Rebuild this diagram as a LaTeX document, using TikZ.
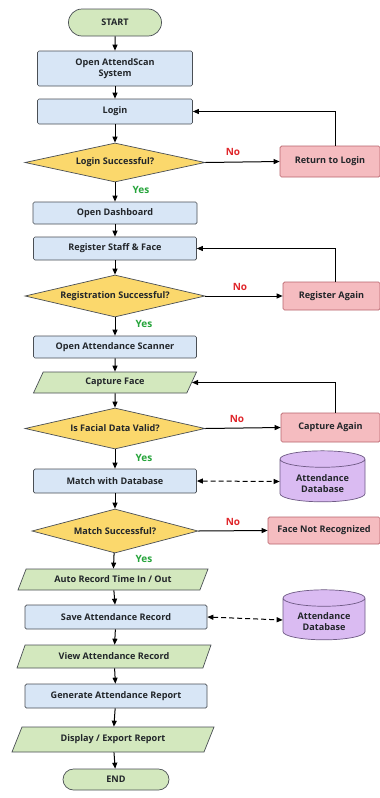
\documentclass[tikz,border=0pt]{standalone}
\usepackage{fontspec}
\setmainfont{Open Sans}
\usetikzlibrary{shapes.geometric,shapes.misc,arrows.meta}
\definecolor{termfill}{HTML}{D3E8BE}
\definecolor{procfill}{HTML}{D8E6F6}
\definecolor{decfill}{HTML}{FBD86C}
\definecolor{errfill}{HTML}{F5BCC0}
\definecolor{errline}{HTML}{B8646C}
\definecolor{dbfill}{HTML}{DABBF2}
\definecolor{dbline}{HTML}{6E5A84}
\definecolor{linec}{HTML}{4A4F55}
\definecolor{txt}{HTML}{22262A}
\definecolor{nored}{HTML}{E0262B}
\definecolor{yesgreen}{HTML}{25A43A}
\begin{document}
\begin{tikzpicture}[x=1pt,y=-1pt,
  font=\bfseries\fontsize{9.1}{11}\selectfont,
  base/.style={draw=linec, line width=0.7pt, text=txt, inner sep=1pt, align=center},
  term/.style={base, rounded rectangle, fill=termfill},
  proc/.style={base, rectangle, fill=procfill, rounded corners=1.5pt},
  dec/.style={base, diamond, fill=decfill, inner sep=0pt},
  err/.style={base, rectangle, fill=errfill, draw=errline, rounded corners=1.5pt},
  io/.style={base, trapezium, trapezium left angle=48, trapezium right angle=132, trapezium stretches body, fill=termfill},
  db/.style={base, cylinder, shape border rotate=90, aspect=0.3, fill=dbfill, draw=dbline},
  arr/.style={-{Triangle[length=6pt,width=5pt]}, line width=1pt, draw=black},
  dbarr/.style={{Triangle[length=6pt,width=5pt]}-{Triangle[length=6pt,width=5pt]}, line width=1pt, dash pattern=on 5pt off 3pt},
  nolab/.style={text=nored, font=\bfseries\fontsize{10}{12}\selectfont},
  yeslab/.style={text=yesgreen, font=\bfseries\fontsize{10}{12}\selectfont}]
\useasboundingbox[fill=white] (0,0) rectangle (380,798);

\node[term, minimum width=95, minimum height=27] (start) at (115,22.5) {START};
\node[proc, minimum width=155, minimum height=35] (open) at (115,68.5) {Open AttendScan\\System};
\node[proc, minimum width=155, minimum height=25] (login) at (115,111.5) {Login};
\node[dec, aspect=4.6, minimum width=180, minimum height=39] (d1) at (115,162.5) {Login Successful?};
\node[err, minimum width=100, minimum height=31] (ret) at (330,161.5) {Return to Login};
\node[proc, minimum width=164, minimum height=22] (dash) at (115,213) {Open Dashboard};
\node[proc, minimum width=163, minimum height=23] (reg) at (115,248.5) {Register Staff \& Face};
\node[dec, aspect=4.3, minimum width=180, minimum height=42] (d2) at (115,296) {Registration Successful?};
\node[err, minimum width=97, minimum height=28] (rega) at (331.5,296) {Register Again};
\node[proc, minimum width=163, minimum height=22] (scan) at (115,347) {Open Attendance Scanner};
\node[io, minimum width=163, minimum height=21] (cap) at (115,382.5) {Capture Face};
\node[dec, aspect=4.4, minimum width=180, minimum height=41] (d3) at (115,428.5) {Is Facial Data Valid?};
\node[err, minimum width=99, minimum height=29] (capa) at (330.5,427.5) {Capture Again};
\node[proc, minimum width=163, minimum height=24] (match) at (115,481) {Match with Database};
\node[db, minimum width=85, minimum height=51] (db1) at (322.5,481.5) {\mbox{}\\Attendance\\Database};
\node[dec, aspect=3.8, minimum width=166, minimum height=44] (d4) at (115,531) {Match Successful?};
\node[err, minimum width=112, minimum height=27] (fnr) at (324,530.5) {Face Not Recognized};
\node[io, minimum width=190, minimum height=21] (auto) at (113,579.5) {Auto Record Time In / Out};
\node[proc, minimum width=182, minimum height=24] (save) at (116,617) {Save Attendance Record};
\node[db, minimum width=82, minimum height=50] (db2) at (324,620) {\mbox{}\\Attendance\\Database};
\node[io, minimum width=194, minimum height=23] (view) at (114,656.5) {View Attendance Record};
\node[proc, minimum width=182, minimum height=24] (gen) at (116,696) {Generate Attendance Report};
\node[io, minimum width=202, minimum height=25] (disp) at (113,739.5) {Display / Export Report};
\node[term, minimum width=108, minimum height=21] (end) at (116,779.5) {END};

\draw[arr] (start) -- (open);
\draw[arr] (open) -- (login);
\draw[arr] (login) -- (d1);
\draw[arr] (d1) -- (dash);
\draw[arr] (dash) -- (reg);
\draw[arr] (reg) -- (d2);
\draw[arr] (d2) -- (scan);
\draw[arr] (scan) -- (cap);
\draw[arr] (cap) -- (d3);
\draw[arr] (d3) -- (match);
\draw[arr] (match) -- (d4);
\draw[arr] (d4) -- (auto);
\draw[arr] (auto) -- (save);
\draw[arr] (save) -- (view);
\draw[arr] (view) -- (gen);
\draw[arr] (gen) -- (disp);
\draw[arr] (disp) -- (end);

\draw[arr] (d1.east) -- (ret.west);
\draw[arr] (d2.east) -- (rega.west);
\draw[arr] (d3.east) -- (capa.west);
\draw[arr] (d4.east) -- (fnr.west);

\draw[arr] ([xshift=5pt]ret.north) |- (login.east);
\draw[arr] ([xshift=3.5pt]rega.north) |- (reg.east);
\draw[arr] ([xshift=4.5pt]capa.north) |- (cap.east);

\draw[dbarr] (match.east) -- (db1.west);
\draw[dbarr] (save.east) -- (db2.west);

\node[nolab] (no1) at (233,152) {No};
\node[nolab] (no2) at (240,287) {No};
\node[nolab] (no3) at (237,419) {No};
\node[nolab] (no4) at (233,522) {No};
\node[yeslab] (yes1) at (141,190) {Yes};
\node[yeslab] (yes2) at (144,324) {Yes};
\node[yeslab] (yes3) at (144,458) {Yes};
\node[yeslab] (yes4) at (144,559) {Yes};
\end{tikzpicture}
\end{document}
